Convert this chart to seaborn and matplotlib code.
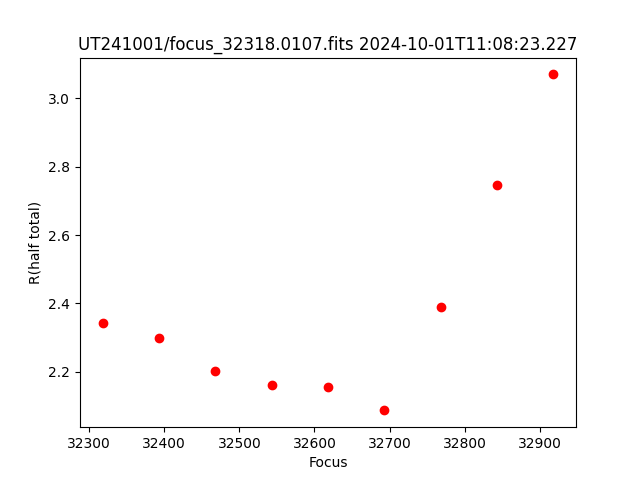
import matplotlib
matplotlib.use('Agg')
import matplotlib.pyplot as plt
import seaborn as sns
import pandas as pd

focus = [32318, 32393, 32468, 32543, 32618, 32693, 32768, 32843, 32918]
r_half = [2.342, 2.300, 2.201, 2.160, 2.154, 2.087, 2.389, 2.746, 3.070]

TITLE = 'UT241001/focus_32318.0107.fits 2024-10-01T11:08:23.227'


def main():
    df = pd.DataFrame({'focus': focus, 'r': r_half})

    fig, ax = plt.subplots(figsize=(6.4, 4.8), dpi=100)
    sns.scatterplot(data=df, x='focus', y='r', color='red', edgecolor='red',
                    s=36, linewidth=1, ax=ax)

    ax.set_title(TITLE)
    ax.set_xlabel('Focus')
    ax.set_ylabel('R(half total)')
    fig.savefig('out.png')


if __name__ == '__main__':
    main()
